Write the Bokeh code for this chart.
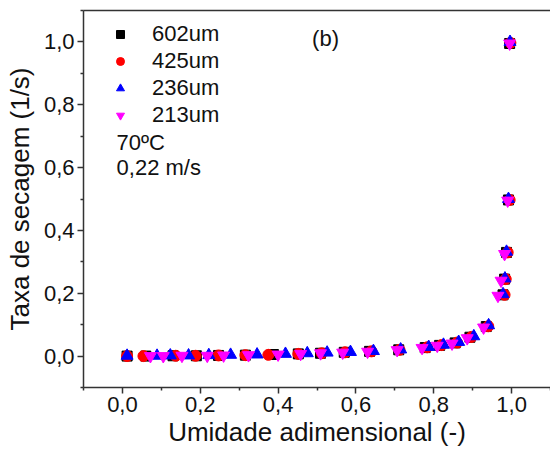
from bokeh.plotting import figure
from bokeh.models import (Range1d, FixedTicker, CustomJSTickFormatter, Legend, LegendItem,
                          LinearAxis, Label)
from bokeh.embed import file_html
from bokeh.resources import INLINE

# ---- data ----
labels = ["602um", "425um", "236um", "213um"]

x602 = [0.012, 0.060, 0.130, 0.190, 0.247, 0.316, 0.388, 0.452, 0.509, 0.570, 0.635,
        0.710, 0.778, 0.815, 0.855, 0.893, 0.935, 0.978, 0.982, 0.987, 0.992, 0.995]
y602 = [0.000, 0.000, 0.001, 0.001, 0.002, 0.003, 0.005, 0.007, 0.009, 0.012, 0.015,
        0.020, 0.027, 0.034, 0.042, 0.060, 0.094, 0.195, 0.245, 0.330, 0.497, 0.995]

x425 = [0.012, 0.054, 0.137, 0.188, 0.247, 0.316, 0.375, 0.452, 0.512, 0.572, 0.640,
        0.712, 0.783, 0.820, 0.860, 0.897, 0.940, 0.982, 0.985, 0.990, 0.995, 0.997]
y425 = [0.000, 0.000, 0.001, 0.001, 0.002, 0.003, 0.004, 0.007, 0.009, 0.012, 0.015,
        0.020, 0.028, 0.035, 0.043, 0.061, 0.095, 0.195, 0.245, 0.330, 0.497, 0.997]

x236 = [0.012, 0.089, 0.123, 0.170, 0.222, 0.278, 0.346, 0.419, 0.475, 0.526, 0.586,
        0.645, 0.715, 0.787, 0.825, 0.864, 0.903, 0.941, 0.978, 0.983, 0.987, 0.992, 0.996]
y236 = [0.001, 0.001, 0.002, 0.002, 0.003, 0.004, 0.005, 0.007, 0.009, 0.011, 0.013,
        0.016, 0.021, 0.029, 0.036, 0.045, 0.063, 0.098, 0.197, 0.247, 0.332, 0.500, 1.000]

x213 = [0.072, 0.105, 0.153, 0.218, 0.260, 0.324, 0.400, 0.458, 0.509, 0.566, 0.630,
        0.706, 0.770, 0.809, 0.847, 0.886, 0.928, 0.965, 0.973, 0.982, 0.990, 0.995]
y213 = [0.000, 0.000, 0.001, 0.001, 0.002, 0.003, 0.005, 0.007, 0.009, 0.011, 0.014,
        0.019, 0.026, 0.033, 0.040, 0.057, 0.091, 0.192, 0.240, 0.325, 0.495, 0.995]

major_ticks = [0.0, 0.2, 0.4, 0.6, 0.8, 1.0]
minor_ticks = [-0.1, 0.1, 0.3, 0.5, 0.7, 0.9, 1.1]

FONT = "Liberation Sans"
AXC = "#333333"

p = figure(width=550, height=452, output_backend="svg", toolbar_location=None,
           x_range=Range1d(-0.1, 1.1), y_range=Range1d(-0.1, 1.1),
           min_border_left=83, min_border_right=0, min_border_top=10, min_border_bottom=65)
p.background_fill_color = "white"
p.border_fill_color = "white"
p.outline_line_color = None
p.xgrid.visible = False
p.ygrid.visible = False

fmt = CustomJSTickFormatter(code="return tick.toFixed(1).replace('.', ',');")
for ax in (p.xaxis[0], p.yaxis[0]):
    ax.ticker = FixedTicker(ticks=major_ticks, minor_ticks=minor_ticks)
    ax.formatter = fmt
    ax.axis_line_color = AXC
    ax.axis_line_width = 1.5
    ax.major_tick_line_color = AXC
    ax.minor_tick_line_color = AXC
    ax.major_tick_line_width = 1.5
    ax.minor_tick_line_width = 1.5
    ax.major_tick_in = 0
    ax.major_tick_out = 6
    ax.minor_tick_in = 0
    ax.minor_tick_out = 3
    ax.major_label_text_font = FONT
    ax.major_label_text_font_size = "22px"
    ax.major_label_text_color = "#111111"
    ax.axis_label_text_font = FONT
    ax.axis_label_text_font_size = "26px"
    ax.axis_label_text_font_style = "normal"
    ax.axis_label_text_color = "#111111"
    ax.major_label_standoff = 3

p.xaxis[0].axis_label = "Umidade adimensional (-)"
p.yaxis[0].axis_label = "Taxa de secagem (1/s)"
p.xaxis[0].axis_label_standoff = 2
p.yaxis[0].axis_label_standoff = 6

# top frame line
top = LinearAxis(ticker=FixedTicker(ticks=[]), major_label_text_font_size="0px",
                 major_tick_out=0, minor_tick_out=0, axis_line_color=AXC,
                 axis_line_width=1.5)
p.add_layout(top, "above")

r1 = p.scatter(x602, y602, marker="square", size=10, color="black")
r2 = p.scatter(x425, y425, marker="circle", size=11, color="#FF0000")
r3 = p.scatter(x236, y236, marker="triangle", size=12, color="#0000FF")
r4 = p.scatter(x213, y213, marker="inverted_triangle", size=12, color="#FF00FF")

legend = Legend(items=[LegendItem(label=labels[0], renderers=[r1]),
                       LegendItem(label=labels[1], renderers=[r2]),
                       LegendItem(label=labels[2], renderers=[r3]),
                       LegendItem(label=labels[3], renderers=[r4])],
                location=(27, 259), orientation="vertical",
                border_line_color=None, background_fill_alpha=0,
                padding=0, margin=0, spacing=1, glyph_width=20, glyph_height=20,
                label_standoff=22, label_text_font=FONT, label_text_font_size="22px",
                label_text_color="#111111", label_height=20)
p.add_layout(legend)

for txt, xx, yy, al in [("70ºC", -0.015, 0.68, "left"),
                         ("0,22 m/s", -0.015, 0.60, "left"),
                         ("(b)", 0.522, 1.01, "center")]:
    p.add_layout(Label(x=xx, y=yy, text=txt, text_font=FONT, text_font_size="22px",
                       text_color="#111111", text_baseline="middle", text_align=al))

open("out.html", "w").write(file_html(p, INLINE))
